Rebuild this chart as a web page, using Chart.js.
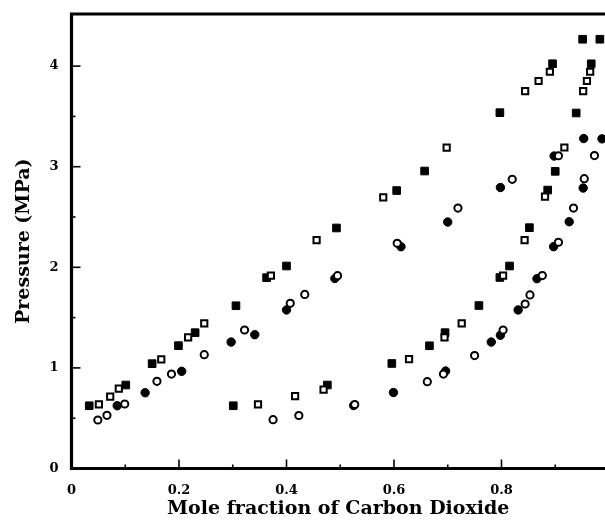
<!DOCTYPE html>
<html>
<head>
<meta charset="utf-8">
<script src="https://cdn.jsdelivr.net/npm/chart.js@4"></script>
<style>
  html, body { margin: 0; padding: 0; background: #fff; overflow: hidden; }
</style>
</head>
<body>
<canvas id="chart" width="605" height="520"></canvas>
<script>
// values: [mole fraction CO2, pressure MPa]
const filledSquares = [
  [0.033, 0.624], [0.101, 0.830], [0.150, 1.042], [0.199, 1.221], [0.230, 1.350],
  [0.306, 1.618], [0.363, 1.897], [0.400, 2.013], [0.493, 2.391], [0.605, 2.763],
  [0.657, 2.957], [0.797, 3.537], [0.895, 4.024], [0.951, 4.267], [0.983, 4.267],
  [0.301, 0.624], [0.476, 0.830], [0.596, 1.044], [0.666, 1.220], [0.695, 1.350],
  [0.758, 1.620], [0.797, 1.899], [0.815, 2.013], [0.852, 2.394], [0.886, 2.768],
  [0.900, 2.954], [0.939, 3.534], [0.967, 4.023]
];
const openSquares = [
  [0.051, 0.638], [0.072, 0.714], [0.088, 0.793], [0.167, 1.085], [0.217, 1.304],
  [0.247, 1.443], [0.371, 1.918], [0.456, 2.271], [0.580, 2.696], [0.698, 3.189],
  [0.844, 3.752], [0.869, 3.852], [0.890, 3.944],
  [0.347, 0.638], [0.416, 0.719], [0.469, 0.784], [0.628, 1.087], [0.694, 1.304],
  [0.726, 1.443], [0.803, 1.917], [0.843, 2.271], [0.881, 2.702], [0.917, 3.191],
  [0.952, 3.752], [0.959, 3.852], [0.965, 3.944]
];
const filledCircles = [
  [0.085, 0.624], [0.137, 0.753], [0.205, 0.966], [0.297, 1.257], [0.341, 1.330],
  [0.400, 1.576], [0.490, 1.889], [0.613, 2.205], [0.700, 2.450], [0.798, 2.793],
  [0.898, 3.106], [0.953, 3.280],
  [0.525, 0.626], [0.599, 0.755], [0.696, 0.969], [0.781, 1.257], [0.798, 1.325],
  [0.831, 1.576], [0.866, 1.887], [0.897, 2.205], [0.926, 2.453], [0.952, 2.788],
  [0.987, 3.277]
];
const openCircles = [
  [0.049, 0.482], [0.066, 0.529], [0.099, 0.641], [0.159, 0.867], [0.186, 0.939],
  [0.247, 1.131], [0.322, 1.377], [0.407, 1.642], [0.434, 1.730], [0.495, 1.917],
  [0.606, 2.239], [0.719, 2.589], [0.820, 2.875], [0.906, 3.109],
  [0.375, 0.485], [0.423, 0.527], [0.527, 0.636], [0.662, 0.863], [0.692, 0.939],
  [0.750, 1.123], [0.803, 1.377], [0.844, 1.635], [0.853, 1.725], [0.876, 1.918],
  [0.906, 2.249], [0.934, 2.589], [0.954, 2.881], [0.973, 3.111]
];

const xTicks = [0, 0.1, 0.2, 0.3, 0.4, 0.5, 0.6, 0.7, 0.8, 0.9];
const yTicks = [0, 0.5, 1, 1.5, 2, 2.5, 3, 3.5, 4];
const xLabeled = [0, 0.2, 0.4, 0.6, 0.8];
const yLabeled = [0, 1, 2, 3, 4];

const xMax = 0.9926;
const yMax = 4.518;

const tickFont = { family: "DejaVu Serif", size: 13, weight: "bold" };
const titleFont = { family: "DejaVu Serif", size: 19, weight: "bold" };

function toPoints(arr) {
  return arr.map(p => ({ x: p[0], y: p[1] }));
}
function isLabeled(list, v) {
  return list.some(t => Math.abs(t - v) < 1e-6);
}

// frame (left, bottom, top) and inward tick marks
const framePlugin = {
  id: "frame",
  beforeDatasetsDraw(chart) {
    const { ctx, chartArea } = chart;
    const xs = chart.scales.x, ys = chart.scales.y;
    ctx.save();
    ctx.strokeStyle = "#000";
    ctx.lineWidth = 1.6;
    xs.ticks.forEach(t => {
      const px = xs.getPixelForValue(t.value);
      const len = isLabeled(xLabeled, t.value) ? 9 : 4;
      ctx.beginPath();
      ctx.moveTo(px, chartArea.bottom);
      ctx.lineTo(px, chartArea.bottom - len);
      ctx.stroke();
    });
    ys.ticks.forEach(t => {
      const py = ys.getPixelForValue(t.value);
      const len = isLabeled(yLabeled, t.value) ? 9 : 4;
      ctx.beginPath();
      ctx.moveTo(chartArea.left, py);
      ctx.lineTo(chartArea.left + len, py);
      ctx.stroke();
    });
    ctx.lineWidth = 3.2;
    ctx.beginPath();
    ctx.moveTo(chartArea.right + 2, chartArea.top);
    ctx.lineTo(chartArea.left, chartArea.top);
    ctx.lineTo(chartArea.left, chartArea.bottom);
    ctx.lineTo(chartArea.right + 2, chartArea.bottom);
    ctx.stroke();
    ctx.restore();
  }
};

new Chart(document.getElementById("chart"), {
  type: "scatter",
  data: {
    datasets: [
      {
        label: "open circles",
        data: toPoints(openCircles),
        pointStyle: "circle",
        pointRadius: 3.6,
        pointBorderWidth: 2,
        pointBackgroundColor: "#fff",
        pointBorderColor: "#000"
      },
      {
        label: "open squares",
        data: toPoints(openSquares),
        pointStyle: "rect",
        pointRadius: 4.4,
        pointBorderWidth: 2,
        pointBackgroundColor: "#fff",
        pointBorderColor: "#000"
      },
      {
        label: "filled circles",
        data: toPoints(filledCircles),
        pointStyle: "circle",
        pointRadius: 4.2,
        pointBorderWidth: 1,
        pointBackgroundColor: "#000",
        pointBorderColor: "#000"
      },
      {
        label: "filled squares",
        data: toPoints(filledSquares),
        pointStyle: "rect",
        pointRadius: 5.4,
        pointBorderWidth: 1,
        pointBackgroundColor: "#000",
        pointBorderColor: "#000"
      }
    ]
  },
  options: {
    responsive: false,
    devicePixelRatio: 1,
    animation: false,
    layout: { autoPadding: false, padding: { top: 14, right: 0, bottom: 0, left: 0 } },
    plugins: { legend: { display: false }, tooltip: { enabled: false } },
    scales: {
      x: {
        type: "linear",
        min: 0,
        max: xMax,
        afterFit: s => { s.height = 51.5; s.paddingLeft = 0; s.paddingRight = 0; },
        afterBuildTicks: s => { s.ticks = xTicks.map(v => ({ value: v })); },
        grid: { display: false, drawTicks: false },
        border: { display: false },
        ticks: {
          color: "#000",
          font: tickFont,
          padding: 14,
          maxRotation: 0,
          autoSkip: false,
          callback: v => isLabeled(xLabeled, v) ? (v === 0 ? "0" : v.toFixed(1)) : ""
        },
        title: {
          display: true,
          text: "Mole fraction of Carbon Dioxide",
          color: "#000",
          font: titleFont,
          padding: { top: 0, bottom: 0 }
        }
      },
      y: {
        type: "linear",
        min: 0,
        max: yMax,
        afterFit: s => { s.width = 71.5; s.paddingTop = 0; s.paddingBottom = 0; },
        afterBuildTicks: s => { s.ticks = yTicks.map(v => ({ value: v })); },
        grid: { display: false, drawTicks: false },
        border: { display: false },
        ticks: {
          color: "#000",
          font: tickFont,
          padding: 13,
          autoSkip: false,
          callback: v => isLabeled(yLabeled, v) ? String(v) : ""
        },
        title: {
          display: true,
          text: "Pressure (MPa)",
          color: "#000",
          font: titleFont,
          padding: { top: 13, bottom: 0 }
        }
      }
    }
  },
  plugins: [framePlugin]
});
</script>
</body>
</html>
